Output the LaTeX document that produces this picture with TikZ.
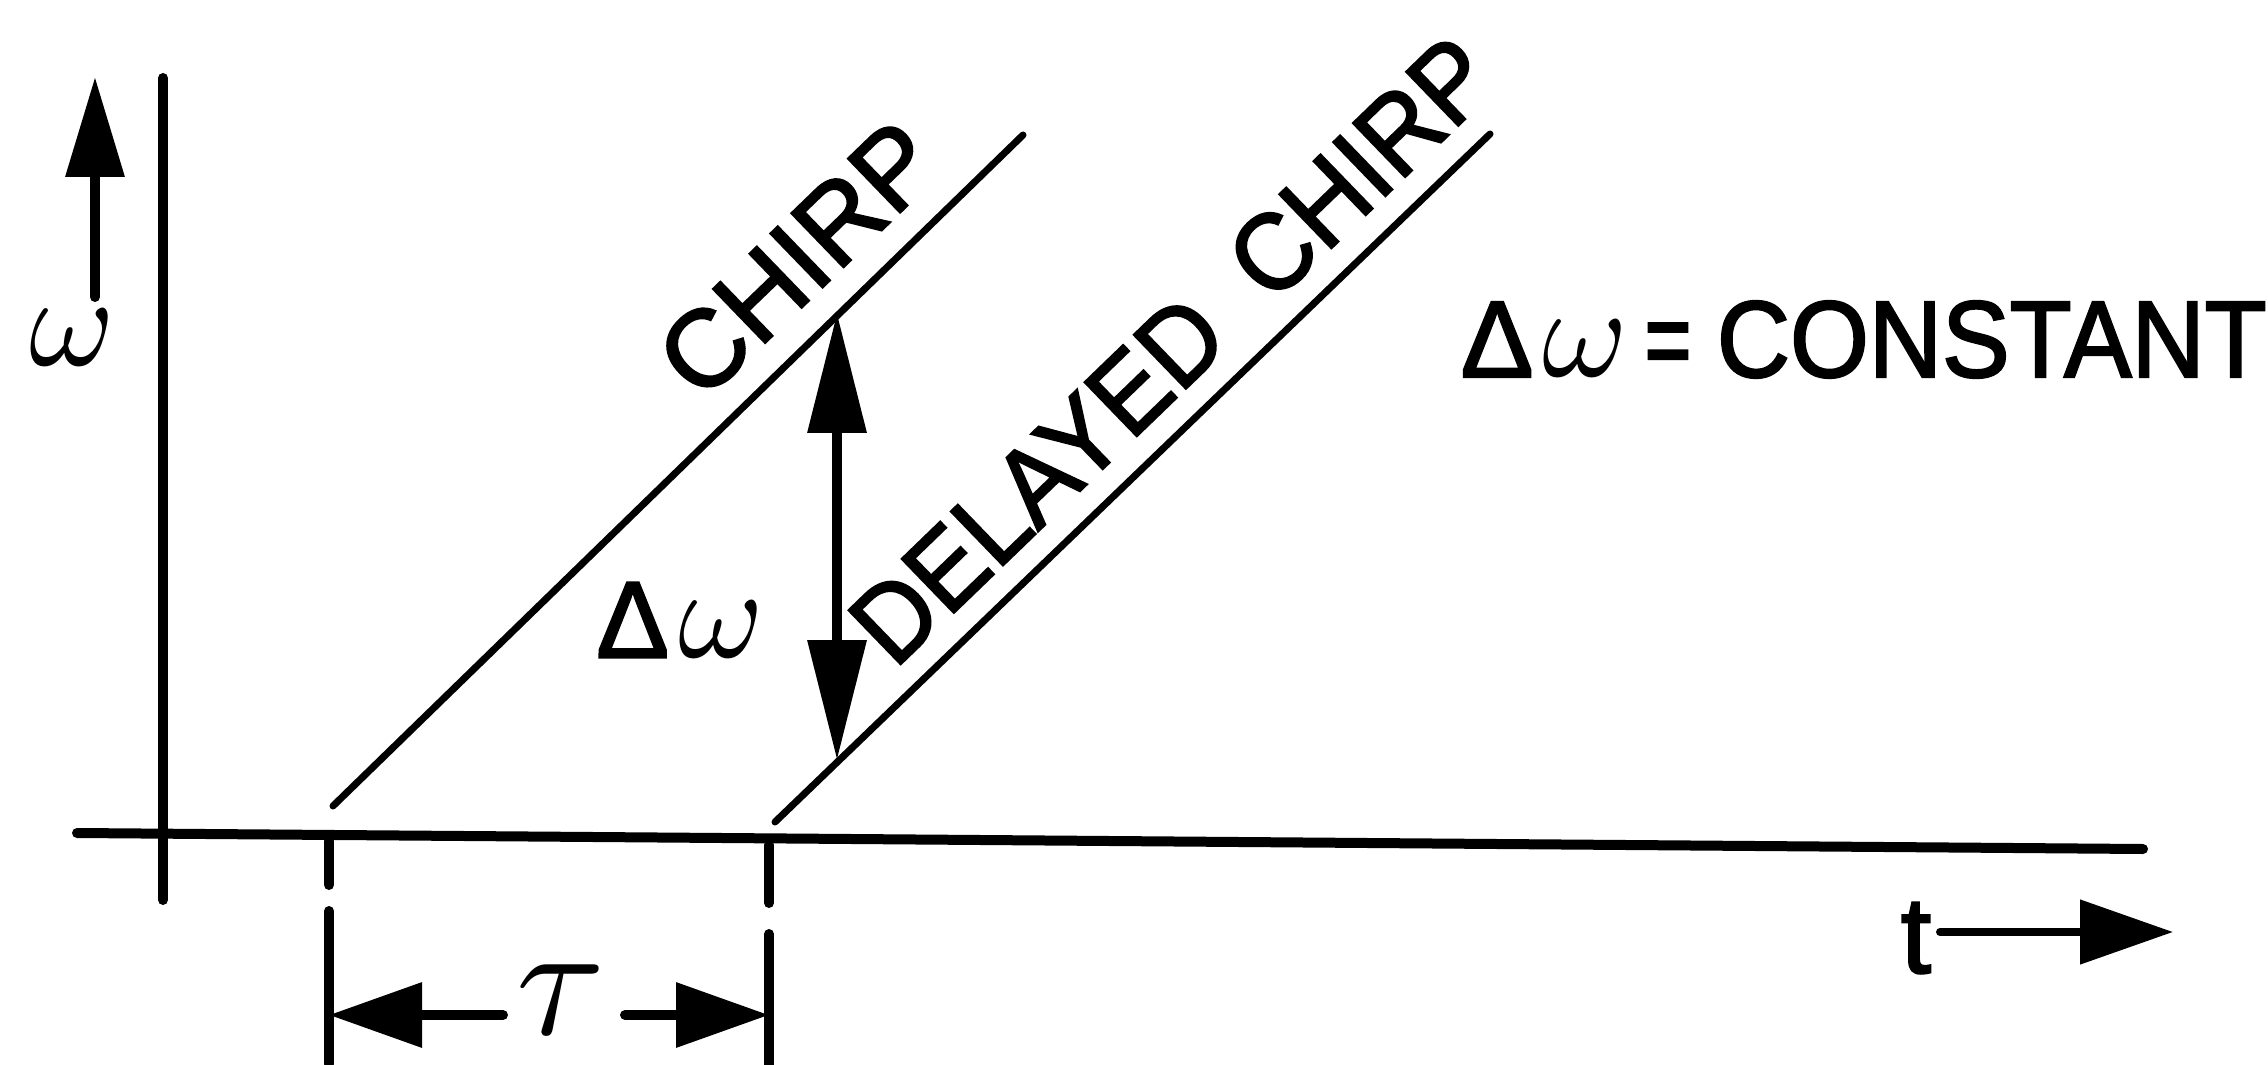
\documentclass[tikz,border=0pt]{standalone}
\usepackage{graphicx}
\usepackage{fontspec}
\setmainfont{Liberation Sans}[FakeBold=2]
\newfontfamily\lblc{Liberation Sans}[FakeStretch=0.93,FakeBold=2]
\newfontfamily\lble{Liberation Sans}[FakeStretch=0.72,FakeBold=2.5]
\newfontfamily\lbld{Liberation Sans}[FakeStretch=0.94,FakeBold=2]
\usetikzlibrary{arrows.meta}
\newcommand{\bigom}[1]{\scalebox{#1}{\fontsize{10}{12}\selectfont$\omega$}}
\begin{document}
\begin{tikzpicture}[x=0.1mm,y=-0.1mm,line cap=round,
  axisline/.style={line width=1mm},
  chirpline/.style={line width=0.7mm},
  lbltext/.style={inner sep=0pt,font=\fontsize{31}{36}\selectfont},
  bigtip/.style={-{Triangle[length=10mm,width=5.7mm]}},
  tautip/.style={-{Triangle[length=9.3mm,width=6.3mm]}},
  dbltip/.style={{Triangle[length=12mm,width=5.7mm]}-{Triangle[length=12mm,width=5.7mm]}}]
\useasboundingbox (0,0) rectangle (2268,1065);
% axes
\coordinate (vtop) at (163,78);
\coordinate (vbot) at (163,900);
\coordinate (hleft) at (77,833);
\coordinate (hright) at (2143,849);
\draw[axisline] (vbot) -- (vtop);
\draw[axisline] (hleft) -- (hright);
% chirp lines
\coordinate (c1s) at (333,806);
\coordinate (c1e) at (1023,135);
\coordinate (c2s) at (775,822);
\coordinate (c2e) at (1490,134);
\draw[chirpline] (c1s) -- (c1e);
\draw[chirpline] (c2s) -- (c2e);
% omega axis arrow
\coordinate (wa0) at (95,297);
\coordinate (wa1) at (95,77);
\draw[axisline,bigtip] (wa0) -- (wa1);
\node[lbltext] (omega) at (72,338) {\bigom{3.7}};
% delta omega arrow
\coordinate (dw1) at (837,313);
\coordinate (dw2) at (837,760);
\draw[axisline,dbltip] (dw2) -- (dw1);
\node[lbltext] (dwlabel) at (680,620) {\char"0394\kern0.9mm\bigom{3.7}};
% chirp labels
\node[lbltext,rotate=44] (chirp) at (798,259) {CHIRP};
\node[lbltext,rotate=44] (dchirp) at (1172,350) {\lbld DELAYED\hspace{0.5em}CHIRP};
% constant label
\node[lbltext,anchor=base west] (const) at (1460,377)
  {\char"0394\kern0.9mm\bigom{3.7}\kern1.7mm{\lble=}\kern2.6mm{\lblc CONSTANT}};
% tau ticks
\coordinate (la1) at (329,841); \coordinate (la2) at (329,885);
\coordinate (la3) at (329,911); \coordinate (la4) at (329,1064);
\coordinate (ra1) at (769,845); \coordinate (ra2) at (769,903);
\coordinate (ra3) at (769,934); \coordinate (ra4) at (769,1065);
\draw[axisline] (la1) -- (la2);
\draw[axisline] (la3) -- (la4);
\draw[axisline] (ra1) -- (ra2);
\draw[axisline] (ra3) -- (ra4);
\coordinate (tl) at (329,1015);
\coordinate (tr) at (769,1015);
\coordinate (tls) at (503,1015);
\coordinate (trs) at (625,1015);
\draw[axisline,tautip] (tls) -- (tl);
\draw[axisline,tautip] (trs) -- (tr);
\node[lbltext] (tau) at (561,1000) {\scalebox{4.6}{\fontsize{10}{12}\selectfont$\tau$}};
% t arrow
\node[lbltext] (tlabel) at (1916,938) {t};
\coordinate (ta0) at (1940,932);
\coordinate (ta1) at (2173,932);
\draw[line width=0.8mm,tautip] (ta0) -- (ta1);
\end{tikzpicture}
\end{document}
